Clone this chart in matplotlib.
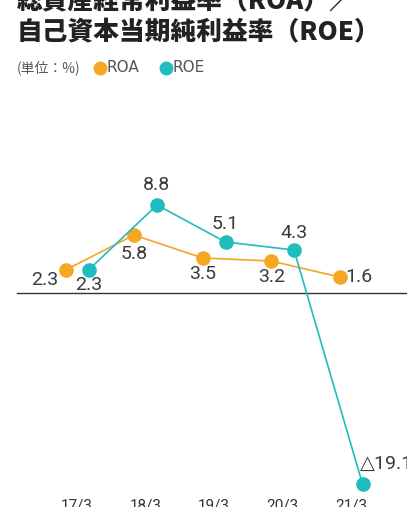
import numpy as np
import matplotlib
matplotlib.use('Agg')
import matplotlib.pyplot as plt

# data
years = ['17/3', '18/3', '19/3', '20/3', '21/3']
roa = [2.3, 5.8, 3.5, 3.2, 1.6]
roe = [2.3, 8.8, 5.1, 4.3, -19.1]
roa_labels = ['2.3', '5.8', '3.5', '3.2', '1.6']
roe_labels = ['2.3', '8.8', '5.1', '4.3', '△19.1']

ORANGE = '#F5A623'
TEAL = '#1FBDBD'
W, H = 407, 507

plt.rcParams['font.family'] = ['Noto Sans CJK JP', 'DejaVu Sans']
num_font = ['Roboto', 'DejaVu Sans']

fig = plt.figure(figsize=(W / 100, H / 100), dpi=100)
ax = fig.add_axes([0, 0, 1, 1])
# map data so that category centres and values land where the original puts them
x0, dx = 77, 68.5
y0, dy = 293, 10.0
ax.set_xlim(-x0 / dx, (W - x0) / dx)
ax.set_ylim(-(H - y0) / dy, y0 / dy)
ax.axis('off')

xi = np.arange(len(years))
off = 11.5 / dx
ax.axhline(0, xmin=17 / W, xmax=1, color='#333333', lw=1.0)

ax.plot(xi - off, roa, color=ORANGE, lw=1.2, marker='o', ms=9.5, zorder=3)
ax.plot(xi + off, roe, color=TEAL, lw=1.2, marker='o', ms=9.5, zorder=3)

# label offsets in pixels
roa_off = [(-21, -10, 'center'), (0, -19, 'center'), (0, -16, 'center'), (1, -16, 'center'), (19, 0, 'center')]
roe_off = [(0, -15, 'center'), (0, 20, 'center'), (0, 18, 'center'), (0, 17, 'center'), (-3, 20, 'left')]

for i, (v, t) in enumerate(zip(roa, roa_labels)):
    ox, oy, ha = roa_off[i]
    ax.annotate(t, (xi[i] - off, v), xytext=(ox, oy), textcoords='offset pixels',
                ha=ha, va='center', fontsize=14, color='#3a3a3a', family=num_font)
for i, (v, t) in enumerate(zip(roe, roe_labels)):
    ox, oy, ha = roe_off[i]
    ax.annotate(t, (xi[i] + off, v), xytext=(ox, oy), textcoords='offset pixels',
                ha=ha, va='center', fontsize=14, color='#3a3a3a', family=num_font,
                annotation_clip=False)

for i, y in enumerate(years):
    ax.text(xi[i], -(498 - y0) / dy, y, ha='center', va='top', fontsize=11,
            color='#333333', family=num_font)

# title
fig.text(17 / W, 1 - 13 / H, '総資産経常利益率（ROA）／', ha='left', va='bottom',
         fontsize=18.5, fontweight='heavy', color='#222222')
fig.text(17 / W, 1 - 45 / H, '自己資本当期純利益率（ROE）', ha='left', va='bottom',
         fontsize=18.5, fontweight='heavy', color='#222222')

# legend
fig.text(17 / W, 1 - 68 / H, '(単位：%)', ha='left', va='center', fontsize=10, color='#555555')
ax.plot([100 / W], [1 - 68 / H], 'o', color=ORANGE, ms=9, transform=fig.transFigure, clip_on=False)
fig.text(107 / W, 1 - 68 / H, 'ROA', ha='left', va='center', fontsize=11, color='#555555',
         family=['DejaVu Sans'])
ax.plot([166 / W], [1 - 68 / H], 'o', color=TEAL, ms=9, transform=fig.transFigure, clip_on=False)
fig.text(173 / W, 1 - 68 / H, 'ROE', ha='left', va='center', fontsize=11, color='#555555',
         family=['DejaVu Sans'])

fig.savefig('out.png', dpi=100)
